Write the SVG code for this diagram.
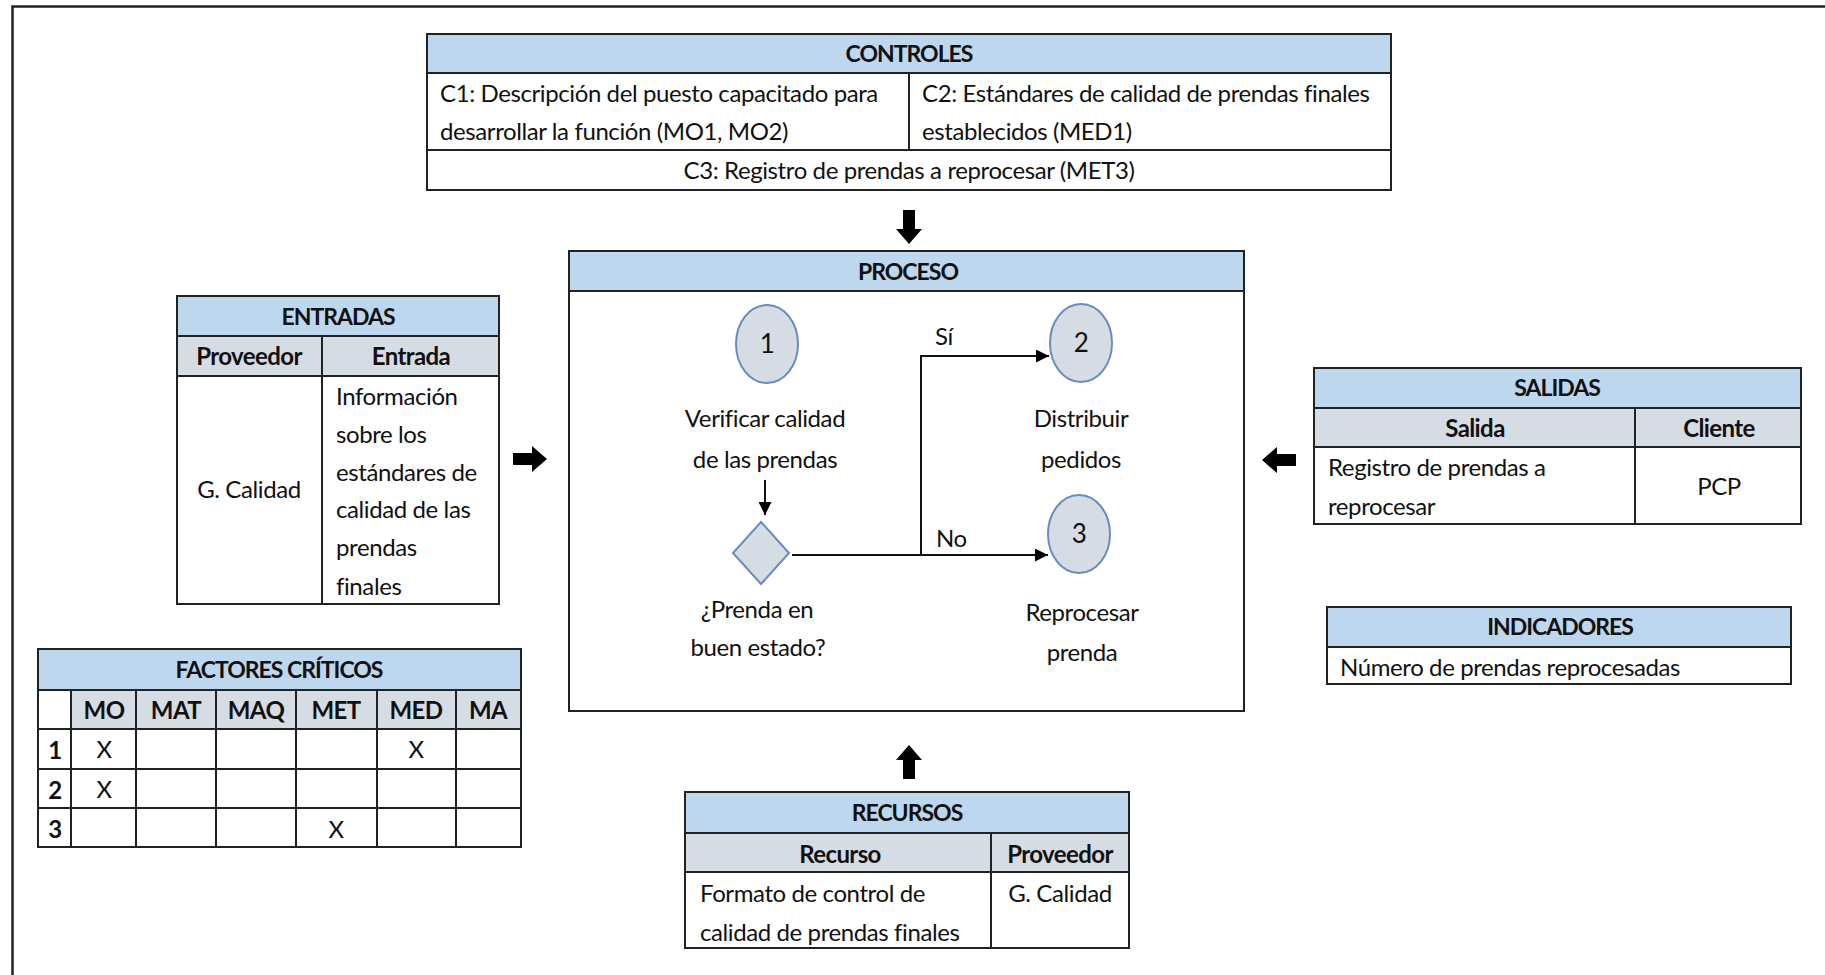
<svg xmlns="http://www.w3.org/2000/svg" xmlns:xlink="http://www.w3.org/1999/xlink" width="1825" height="975" viewBox="0 0 1825 975">
  <style>
    .hdr { fill: #bdd7ee; stroke: #222; stroke-width: 2; }
    .sub { fill: #d6dce4; stroke: #222; stroke-width: 2; }
    .cell { fill: #ffffff; stroke: #222; stroke-width: 2; }
    .ln { stroke: #222; stroke-width: 2; fill: none; }
    .node { fill: #d6dce4; stroke: #6a8bbd; stroke-width: 2; }
    .flow { stroke: #111; stroke-width: 2; fill: none; }
    text { font-family: Lato, "Liberation Sans", sans-serif; font-size: 24px; letter-spacing: -0.4px; fill: #111; }
    .b { font-weight: bold; letter-spacing: -0.6px; }
    .hd { font-weight: bold; font-size: 23px; letter-spacing: -1px; }
    .num { font-size: 26px; }
    .c { text-anchor: middle; }
  </style>
  <defs>
    <!-- thick block arrow pointing right, tail at the origin -->
    <path id="blk" d="M0,-6 H19 V-13 L34,0 L19,13 V6 H0 Z" fill="#000"/>
    <marker id="triL" viewBox="0 0 10 10" refX="10" refY="5" markerWidth="13" markerHeight="13" markerUnits="userSpaceOnUse" orient="auto">
      <path d="M0,0 L10,5 L0,10 Z" fill="#000"/>
    </marker>
  </defs>

  <rect width="1825" height="975" fill="#fff"/>
  <!-- outer frame -->
  <rect x="12.5" y="6.5" width="1900" height="1000" fill="none" stroke="#222" stroke-width="2.5"/>

  <!-- CONTROLES -->
  <g id="controles">
    <rect class="hdr" x="427" y="34" width="964" height="39"/>
    <rect class="cell" x="427" y="73" width="964" height="77"/>
    <rect class="cell" x="427" y="150" width="964" height="40"/>
    <line class="ln" x1="909" y1="73" x2="909" y2="150"/>
    <text class="hd c" x="909" y="62">CONTROLES</text>
    <text x="440" y="102">C1: Descripción del puesto capacitado para</text>
    <text x="440" y="140">desarrollar la función (MO1, MO2)</text>
    <text x="922" y="102">C2: Estándares de calidad de prendas finales</text>
    <text x="922" y="140">establecidos (MED1)</text>
    <text class="c" x="909" y="179">C3: Registro de prendas a reprocesar (MET3)</text>
  </g>

  <!-- ENTRADAS -->
  <g id="entradas">
    <rect class="hdr" x="177" y="296" width="322" height="40"/>
    <rect class="sub" x="177" y="336" width="322" height="40"/>
    <rect class="cell" x="177" y="376" width="322" height="228"/>
    <line class="ln" x1="322" y1="336" x2="322" y2="604"/>
    <text class="hd c" x="338" y="325">ENTRADAS</text>
    <text class="b c" x="249" y="365">Proveedor</text>
    <text class="b c" x="411" y="365">Entrada</text>
    <text class="c" x="249" y="498">G. Calidad</text>
    <text x="336" y="405">Información</text>
    <text x="336" y="443">sobre los</text>
    <text x="336" y="481">estándares de</text>
    <text x="336" y="518">calidad de las</text>
    <text x="336" y="556">prendas</text>
    <text x="336" y="595">finales</text>
  </g>

  <!-- PROCESO -->
  <g id="proceso">
    <rect class="cell" x="569" y="251" width="675" height="460"/>
    <rect class="hdr" x="569" y="251" width="675" height="40"/>
    <text class="hd c" x="908" y="280">PROCESO</text>
  </g>

  <g id="paso1">
    <ellipse class="node" cx="767" cy="344" rx="31" ry="39"/>
    <text class="num c" x="767" y="353">1</text>
    <text class="c" x="765" y="427">Verificar calidad</text>
    <text class="c" x="765" y="468">de las prendas</text>
  </g>
  <g id="decision">
    <polygon class="node" points="761,522 789,553 761,584 733,553"/>
    <text class="c" x="757" y="618">¿Prenda en</text>
    <text class="c" x="758" y="656">buen estado?</text>
  </g>
  <g id="paso2">
    <ellipse class="node" cx="1081" cy="343" rx="31" ry="39"/>
    <text class="num c" x="1081" y="352">2</text>
    <text class="c" x="1081" y="427">Distribuir</text>
    <text class="c" x="1081" y="468">pedidos</text>
  </g>
  <g id="paso3">
    <ellipse class="node" cx="1079" cy="534" rx="31" ry="39"/>
    <text class="num c" x="1079" y="543">3</text>
    <text class="c" x="1082" y="621">Reprocesar</text>
    <text class="c" x="1082" y="661">prenda</text>
  </g>

  <!-- SALIDAS -->
  <g id="salidas">
    <rect class="hdr" x="1314" y="368" width="487" height="40"/>
    <rect class="sub" x="1314" y="408" width="487" height="39"/>
    <rect class="cell" x="1314" y="447" width="487" height="77"/>
    <line class="ln" x1="1635" y1="408" x2="1635" y2="524"/>
    <text class="hd c" x="1557" y="396">SALIDAS</text>
    <text class="b c" x="1475" y="437">Salida</text>
    <text class="b c" x="1719" y="437">Cliente</text>
    <text x="1328" y="476">Registro de prendas a</text>
    <text x="1328" y="515">reprocesar</text>
    <text class="c" x="1719" y="495">PCP</text>
  </g>

  <!-- INDICADORES -->
  <g id="indicadores">
    <rect class="hdr" x="1327" y="607" width="464" height="40"/>
    <rect class="cell" x="1327" y="647" width="464" height="37"/>
    <text class="hd c" x="1560" y="635">INDICADORES</text>
    <text x="1340" y="676">Número de prendas reprocesadas</text>
  </g>

  <!-- FACTORES CRÍTICOS -->
  <g id="factores">
    <rect class="hdr" x="38" y="649" width="483" height="41"/>
    <rect class="sub" x="71" y="690" width="450" height="39"/>
    <rect class="cell" x="38" y="690" width="33" height="39"/>
    <rect class="cell" x="38" y="729" width="483" height="118"/>
    <line class="ln" x1="38" y1="769" x2="521" y2="769"/>
    <line class="ln" x1="38" y1="808" x2="521" y2="808"/>
    <line class="ln" x1="71" y1="690" x2="71" y2="847"/>
    <line class="ln" x1="136" y1="690" x2="136" y2="847"/>
    <line class="ln" x1="216" y1="690" x2="216" y2="847"/>
    <line class="ln" x1="296" y1="690" x2="296" y2="847"/>
    <line class="ln" x1="377" y1="690" x2="377" y2="847"/>
    <line class="ln" x1="456" y1="690" x2="456" y2="847"/>
    <text class="hd c" x="279" y="678">FACTORES CRÍTICOS</text>
    <text class="b c" x="104" y="719">MO</text>
    <text class="b c" x="176" y="719">MAT</text>
    <text class="b c" x="256" y="719">MAQ</text>
    <text class="b c" x="336" y="719">MET</text>
    <text class="b c" x="416" y="719">MED</text>
    <text class="b c" x="488" y="719">MA</text>
    <text class="b c" x="55" y="759">1</text>
    <text class="b c" x="55" y="799">2</text>
    <text class="b c" x="55" y="838">3</text>
    <text class="c" x="104" y="758">X</text>
    <text class="c" x="416" y="758">X</text>
    <text class="c" x="104" y="798">X</text>
    <text class="c" x="336" y="838">X</text>
  </g>

  <!-- RECURSOS -->
  <g id="recursos">
    <rect class="hdr" x="685" y="792" width="444" height="41"/>
    <rect class="sub" x="685" y="833" width="444" height="39"/>
    <rect class="cell" x="685" y="872" width="444" height="76"/>
    <line class="ln" x1="991" y1="833" x2="991" y2="948"/>
    <text class="hd c" x="907" y="821">RECURSOS</text>
    <text class="b c" x="840" y="863">Recurso</text>
    <text class="b c" x="1060" y="863">Proveedor</text>
    <text x="700" y="902">Formato de control de</text>
    <text x="700" y="941">calidad de prendas finales</text>
    <text class="c" x="1060" y="902">G. Calidad</text>
  </g>

  <!-- connectors -->
  <g id="conectores">
    <use xlink:href="#blk" transform="translate(909,210) rotate(90)"/>
    <use xlink:href="#blk" transform="translate(513,459)"/>
    <use xlink:href="#blk" transform="translate(1296,460) rotate(180)"/>
    <use xlink:href="#blk" transform="translate(909,779) rotate(-90)"/>
    <line class="flow" x1="765" y1="480" x2="765" y2="515" marker-end="url(#triL)"/>
    <polyline class="flow" points="792,555 921,555 921,356 1049,356" marker-end="url(#triL)"/>
    <line class="flow" x1="921" y1="555" x2="1048" y2="555" marker-end="url(#triL)"/>
    <text x="935" y="345">Sí</text>
    <text x="936" y="547">No</text>
  </g>
</svg>
